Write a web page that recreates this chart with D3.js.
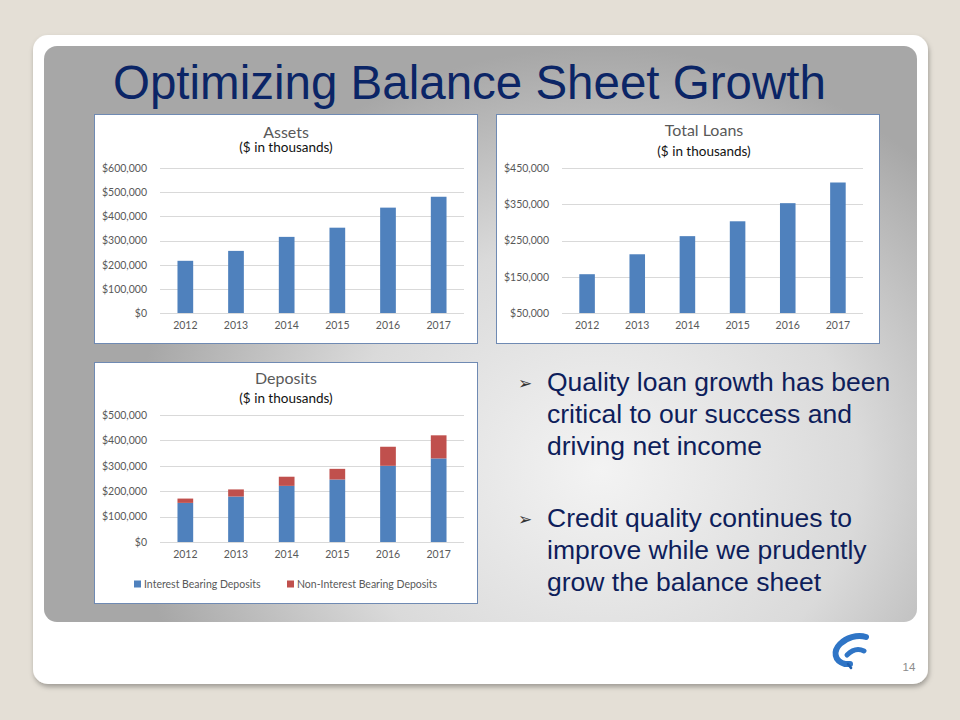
<!DOCTYPE html>
<html>
<head>
<meta charset="utf-8">
<script src="https://cdn.jsdelivr.net/npm/d3@7"></script>
<style>
  html, body { margin: 0; padding: 0; background: #e4dfd6; }
  svg { display: block; }
</style>
</head>
<body>
<svg id="slide" width="960" height="720"></svg>
<script>
// data ($ in thousands)
const years = ["2012", "2013", "2014", "2015", "2016", "2017"];
const assets = [216000, 257000, 315000, 353000, 436000, 481000];
const loans = [157000, 212000, 262000, 303000, 353000, 410000];
const interestDeposits = [154000, 179000, 221000, 246000, 300000, 329000];
const nonInterestDeposits = [17000, 28000, 36000, 42000, 75000, 91000];
const assetTicks = [0, 100000, 200000, 300000, 400000, 500000, 600000];
const loanTicks = [50000, 150000, 250000, 350000, 450000];
const depositTicks = [0, 100000, 200000, 300000, 400000, 500000];
const depositSeries = ["Interest Bearing Deposits", "Non-Interest Bearing Deposits"];
const bullets = [
  ["Quality loan growth has been", "critical to our success and", "driving net income"],
  ["Credit quality continues to", "improve while we prudently", "grow the balance sheet"]
];

const blue = "#4f81bd";
const red = "#c0504d";
const chartFont = "Lato, 'Open Sans', sans-serif";
const fmt = d3.format("$,");

const svg = d3.select("#slide");
const defs = svg.append("defs");

const shadow = defs.append("filter").attr("id", "shadow")
  .attr("x", "-5%").attr("y", "-5%").attr("width", "110%").attr("height", "115%");
shadow.append("feDropShadow").attr("dx", 1).attr("dy", 3).attr("stdDeviation", 2.5)
  .attr("flood-color", "#000").attr("flood-opacity", 0.3);

const grad = defs.append("radialGradient").attr("id", "panel")
  .attr("gradientUnits", "userSpaceOnUse")
  .attr("cx", 600).attr("cy", 470).attr("r", 470)
  .attr("gradientTransform", "translate(600,470) scale(1,0.9) translate(-600,-470)");
grad.append("stop").attr("offset", 0).attr("stop-color", "#f3f3f3");
grad.append("stop").attr("offset", 0.55).attr("stop-color", "#dadada");
grad.append("stop").attr("offset", 1).attr("stop-color", "#a7a7a7");

// white card + gray panel
svg.append("rect").attr("x", 33).attr("y", 35).attr("width", 895).attr("height", 649)
  .attr("rx", 15).attr("fill", "#fff").attr("filter", "url(#shadow)");
svg.append("rect").attr("x", 44).attr("y", 46).attr("width", 873).attr("height", 576)
  .attr("rx", 13).attr("fill", "url(#panel)");

svg.append("text").attr("x", 113).attr("y", 99)
  .attr("font-family", "Arial, 'Liberation Sans', sans-serif")
  .attr("font-size", 47.5).attr("fill", "#0b2566")
  .text("Optimizing Balance Sheet Growth");

function drawChart(o) {
  const g = svg.append("g");
  g.append("rect").attr("x", o.box[0] + 0.5).attr("y", o.box[1] + 0.5)
    .attr("width", o.box[2]).attr("height", o.box[3])
    .attr("fill", "#fff").attr("stroke", "#6f8ab3").attr("stroke-width", 1);

  const cx = o.box[0] + o.box[2] / 2;
  g.append("text").attr("x", o.titleX || cx).attr("y", o.titleY)
    .attr("text-anchor", "middle").attr("dominant-baseline", "central")
    .attr("font-family", chartFont).attr("font-size", 16).attr("fill", "#595959")
    .text(o.title);
  g.append("text").attr("x", o.titleX || cx).attr("y", o.subY)
    .attr("text-anchor", "middle").attr("dominant-baseline", "central")
    .attr("font-family", chartFont).attr("font-size", 13.5).attr("fill", "#111")
    .text("($ in thousands)");

  const x = d3.scaleBand().domain(years).range([o.left, o.right])
    .paddingInner(0.69).paddingOuter(0.345);
  const y = d3.scaleLinear().domain([o.ticks[0], o.ticks[o.ticks.length - 1]])
    .range([o.bottom, o.top]);

  g.append("g").selectAll("line").data(o.ticks).join("line")
    .attr("x1", o.left).attr("x2", o.right)
    .attr("y1", d => Math.round(y(d)) + 0.5).attr("y2", d => Math.round(y(d)) + 0.5)
    .attr("stroke", "#d9d9d9");

  const yAxis = g.append("g").attr("transform", `translate(${o.left},0)`)
    .call(d3.axisLeft(y).tickValues(o.ticks).tickFormat(fmt).tickSize(0).tickPadding(13));
  yAxis.select(".domain").remove();
  yAxis.selectAll("text").attr("font-family", chartFont).attr("font-size", 10.5).attr("fill", "#595959");

  const xAxis = g.append("g").attr("transform", `translate(0,${o.bottom})`)
    .call(d3.axisBottom(x).tickSize(0).tickPadding(9));
  xAxis.select(".domain").remove();
  xAxis.selectAll("text").attr("font-family", chartFont).attr("font-size", 10.5).attr("fill", "#595959");

  const rows = years.map((yr, i) => {
    const r = {year: yr};
    o.series.forEach(s => r[s.name] = s.values[i]);
    return r;
  });
  const stacked = d3.stack().keys(o.series.map(s => s.name))
    .offset((series, order) => {
      d3.stackOffsetNone(series, order);
      // bars start at the axis floor, not at zero
      series.forEach(s => s.forEach(d => { if (d[0] === 0) d[0] = o.ticks[0]; }));
    })(rows);

  g.append("g").selectAll("g").data(stacked).join("g")
    .attr("fill", (d, i) => o.series[i].color)
    .selectAll("rect").data(d => d).join("rect")
    .attr("x", d => x(d.data.year))
    .attr("width", x.bandwidth())
    .attr("y", d => y(d[1]))
    .attr("height", d => y(d[0]) - y(d[1]));

  if (o.legend) {
    const lg = g.append("g").selectAll("g").data(o.series).join("g")
      .attr("transform", (d, i) => `translate(${o.legend[i]},${o.legendY})`);
    lg.append("rect").attr("x", 0).attr("y", -3.5).attr("width", 7).attr("height", 7)
      .attr("fill", d => d.color);
    lg.append("text").attr("x", 10).attr("y", 0).attr("dominant-baseline", "central")
      .attr("font-family", chartFont).attr("font-size", 10.5).attr("fill", "#595959")
      .text(d => d.name);
  }
}

drawChart({
  box: [94, 114, 383, 229], title: "Assets", titleX: 286, titleY: 131, subY: 147,
  left: 160, right: 464, top: 168, bottom: 313, ticks: assetTicks,
  series: [{name: "Assets", values: assets, color: blue}]
});
drawChart({
  box: [496, 114, 383, 229], title: "Total Loans", titleX: 704, titleY: 129, subY: 151,
  left: 562, right: 863, top: 168, bottom: 313, ticks: loanTicks,
  series: [{name: "Total Loans", values: loans, color: blue}]
});
drawChart({
  box: [94, 362, 383, 241], title: "Deposits", titleX: 286, titleY: 377, subY: 398,
  left: 160, right: 464, top: 415, bottom: 542, ticks: depositTicks,
  series: [
    {name: depositSeries[0], values: interestDeposits, color: blue},
    {name: depositSeries[1], values: nonInterestDeposits, color: red}
  ],
  legend: [134, 287], legendY: 584
});

// bullet text
const paraY = [391, 527];
bullets.forEach((lines, p) => {
  svg.append("text").attr("x", 518).attr("y", paraY[p] - 8)
    .attr("font-family", "'DejaVu Sans', sans-serif").attr("font-size", 17)
    .attr("fill", "#333").attr("dominant-baseline", "central")
    .text("\u27A2");
  svg.append("text")
    .attr("font-family", "Arial, 'Liberation Sans', sans-serif")
    .attr("font-size", 26.5).attr("fill", "#0e1e5b")
    .selectAll("tspan").data(lines).join("tspan")
    .attr("x", 547).attr("y", (d, i) => paraY[p] + i * 32)
    .text(d => d);
});

// logo and page number
const logo = svg.append("g").attr("fill", "none").attr("stroke", "#2f75c6").attr("stroke-linecap", "round");
logo.append("path").attr("stroke-width", 6)
  .attr("d", "M866,637 C857,634 846,638 840,644 C833,651 834,661 845,664 L850,664");
logo.append("path").attr("stroke-width", 5)
  .attr("d", "M847,655 C852,650 858,648 864,651");
logo.append("path").attr("stroke-width", 2.5).attr("stroke", "#1f5fae")
  .attr("d", "M848,664 L851,668");

svg.append("text").attr("x", 909).attr("y", 671).attr("text-anchor", "middle")
  .attr("font-family", "Arial, 'Liberation Sans', sans-serif").attr("font-size", 11.5)
  .attr("fill", "#8c8c8c").text("14");
</script>
</body>
</html>
